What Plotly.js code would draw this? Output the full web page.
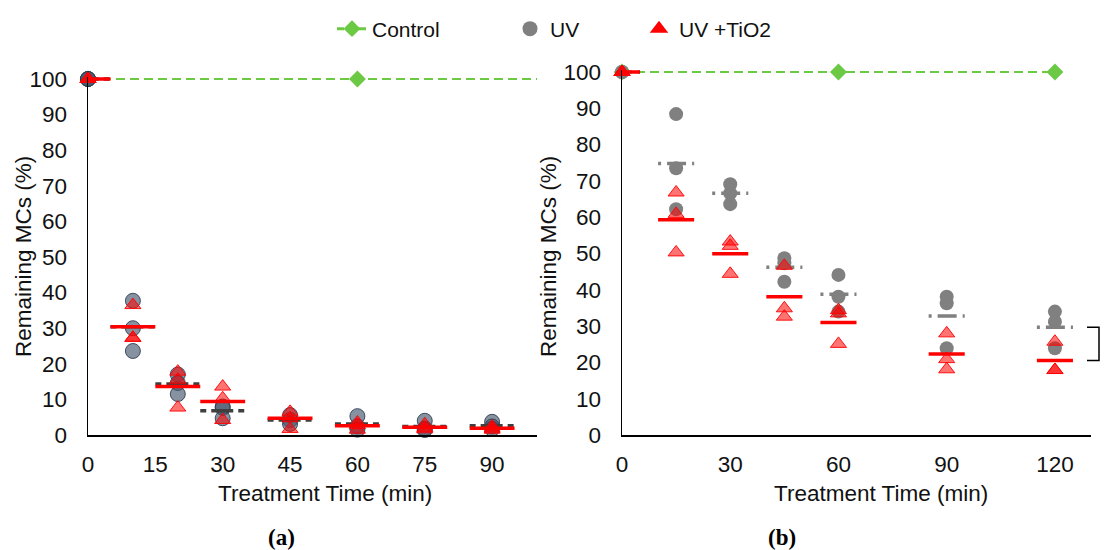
<!DOCTYPE html>
<html>
<head>
<meta charset="utf-8">
<script src="https://cdn.plot.ly/plotly-3.0.1.min.js"></script>
<style>html,body{margin:0;padding:0;background:#fff;}#chart{width:1108px;height:550px;}</style>
</head>
<body>
<div id="chart"></div>
<script>
// ---------- Data ----------
// Panel (a)
var timesA = [0, 10, 20, 30, 45, 60, 75, 90];
var uvA = [[100,100,100],[37.7,30.0,23.6],[17.0,14.6,11.5],[8.0,7.6,4.7],[5.6,4.2,3.1],[5.3,2.4,1.5],[4.0,1.8,1.4],[3.7,2.4,1.7]];
var tio2A = [[100,100,100],[36.5,27.3,27.3],[17.8,15.5,7.7],[13.6,10.3,4.2],[6.5,4.7,1.7],[3.5,2.8,1.5],[3.0,2.0,1.6],[2.4,1.8,1.5]];
var uvMeanA = [100, 30.4, 14.3, 6.8, 4.2, 3.1, 2.4, 2.6];
var tio2MeanA = [100, 30.4, 13.6, 9.4, 4.7, 2.6, 2.2, 1.9];
// Panel (b)
var timesB = [0, 15, 30, 45, 60, 90, 120];
var uvB = [[100,100,100],[88.4,73.5,62.2],[69.1,66.6,63.6],[48.7,47.3,42.2],[44.1,38.1,34.0],[38.1,36.3,23.9],[34.0,31.2,23.9]];
var tio2B = [[100,100,100],[66.8,60.9,50.3],[53.3,52.1,44.4],[46.6,34.9,32.6],[34.4,33.5,25.1],[28.0,20.9,18.1],[25.7,17.9,17.9]];
var uvMeanB = [100, 74.8, 66.6, 46.2, 38.8, 32.8, 29.7];
var tio2MeanB = [100, 59.3, 49.9, 38.1, 31.0, 22.3, 20.5];
// Control
var controlTimes = [0, 60, 120];
var controlValues = [100, 100, 100];
// Labels
var seriesNames = ['Control', 'UV', 'UV +TiO2'];
var xTitle = 'Treatment Time (min)';
var yTitle = 'Remaining MCs (%)';
var panelLabels = ['(a)', '(b)'];
var ticksA = [0, 15, 30, 45, 60, 75, 90];
var ticksB = [0, 30, 60, 90, 120];

// ---------- Helpers ----------
function flatten(times, reps) {
  var x = [], y = [];
  times.forEach(function (t, i) { reps[i].forEach(function (v) { x.push(t); y.push(v); }); });
  return {x: x, y: y};
}
var HALF = 5; // half-length of mean bars in minutes
function meanBars(times, means) {
  var x = [], y = [];
  times.forEach(function (t, i) { x.push(t - HALF, t + HALF, null); y.push(means[i], means[i], null); });
  return {x: x, y: y};
}

var FONT = 'Liberation Sans, Arial, Helvetica, sans-serif';
var GREEN = '#6cc944';
var AXFS = 22.5;

var traces = [];
function panel(xa, ya, times, uv, tio2, uvMean, tio2Mean, style) {
  traces.push({x: controlTimes, y: controlValues, xaxis: xa, yaxis: ya, mode: 'lines+markers', showlegend: false,
    line: {color: GREEN, width: 2, dash: '9px,5px'}, marker: {symbol: 'diamond', size: 13, color: GREEN}, cliponaxis: false});
  var u = flatten(times, uv);
  traces.push({x: u.x, y: u.y, xaxis: xa, yaxis: ya, mode: 'markers', showlegend: false, cliponaxis: false,
    marker: style.uvMarker});
  var um = meanBars(times, uvMean);
  traces.push({x: um.x, y: um.y, xaxis: xa, yaxis: ya, mode: 'lines', showlegend: false,
    line: {color: style.uvMeanColor, width: 3.5, dash: style.uvDash}});
  var r = flatten(times, tio2);
  traces.push({x: r.x, y: r.y, xaxis: xa, yaxis: ya, mode: 'markers', showlegend: false, cliponaxis: false,
    marker: style.tio2Marker});
  var rm = meanBars(times, tio2Mean);
  traces.push({x: rm.x, y: rm.y, xaxis: xa, yaxis: ya, mode: 'lines', showlegend: false,
    line: {color: '#ff0000', width: 3.5}});
}

panel('x', 'y', timesA, uvA, tio2A, uvMeanA, tio2MeanA, {
  uvMarker: {symbol: 'circle', size: 15, color: 'rgba(70,88,110,0.65)', line: {color: 'rgba(40,55,75,0.85)', width: 1}},
  uvMeanColor: '#3f3f3f', uvDash: '6px,5px,22px,5px,6px',
  tio2Marker: {symbol: 'triangle-up', size: 14, color: 'rgba(255,0,0,0.55)', line: {color: 'rgba(255,0,0,0.9)', width: 1}}
});
panel('x2', 'y2', timesB, uvB, tio2B, uvMeanB, tio2MeanB, {
  uvMarker: {symbol: 'circle', size: 14, color: '#808080'},
  uvMeanColor: '#808080', uvDash: '3px,6px,19px,6px,3px',
  tio2Marker: {symbol: 'triangle-up', size: 14, color: 'rgba(255,0,0,0.55)', line: {color: 'rgba(255,0,0,0.9)', width: 1}}
});

// Legend-only entries
traces.push({x: [null], y: [null], mode: 'lines+markers', name: seriesNames[0], legend: 'legend',
  line: {color: GREEN, width: 3, dash: '7px,4px'}, marker: {symbol: 'diamond', size: 13, color: GREEN}});
traces.push({x: [null], y: [null], mode: 'markers', name: seriesNames[1], legend: 'legend2',
  marker: {symbol: 'circle', size: 15, color: '#808080'}});
traces.push({x: [null], y: [null], mode: 'markers', name: seriesNames[2], legend: 'legend3',
  marker: {symbol: 'triangle-up', size: 17, color: '#ff0000'}});

// y range slightly above 100 so the control line at 100 is not clipped; domain keeps 100 at the same pixel
var YMAX = 100.6;
function yAxis(bottomPx, topPx, anchor) {
  var per = (bottomPx - topPx) / 100;
  var topExt = topPx - (YMAX - 100) * per;
  return {domain: [(550 - bottomPx) / 550, (550 - topExt) / 550], anchor: anchor, range: [0, YMAX],
    tickvals: [0,10,20,30,40,50,60,70,80,90,100], showline: true, linecolor: '#000', linewidth: 1.5,
    showgrid: false, zeroline: false, ticks: '', ticklabelstandoff: 15, fixedrange: true,
    tickfont: {family: FONT, size: AXFS, color: '#111'}};
}
function xAxis(dom, anchor, range, tv) {
  return {domain: dom, anchor: anchor, range: range, tickvals: tv, showline: true, linecolor: '#000', linewidth: 1.5,
    showgrid: false, zeroline: false, ticks: '', ticklabelstandoff: 8, fixedrange: true,
    tickfont: {family: FONT, size: AXFS, color: '#111'}};
}

var legFont = {family: FONT, size: 21, color: '#111'};
function leg(x) {
  return {x: x, y: (550 - 29) / 550, xanchor: 'left', yanchor: 'middle', orientation: 'h', font: legFont,
    bgcolor: 'rgba(0,0,0,0)', borderwidth: 0, itemwidth: 30};
}

function ann(text, xpx, ypx, extra) {
  var a = {text: text, xref: 'paper', yref: 'paper', x: xpx / 1108, y: (550 - ypx) / 550, showarrow: false,
    xanchor: 'center', yanchor: 'middle', font: {family: FONT, size: AXFS, color: '#111'}};
  for (var k in extra) a[k] = extra[k];
  return a;
}

var layout = {
  width: 1108, height: 550,
  margin: {l: 0, r: 0, t: 0, b: 0},
  paper_bgcolor: '#fff', plot_bgcolor: '#fff',
  xaxis: xAxis([88 / 1108, 537 / 1108], 'y', [0, 100], ticksA),
  yaxis: yAxis(435, 79, 'x'),
  xaxis2: xAxis([622 / 1108, 1091 / 1108], 'y2', [0, 130], ticksB),
  yaxis2: yAxis(435, 72, 'x2'),
  legend: leg(332 / 1108),
  legend2: leg(510 / 1108),
  legend3: leg(639 / 1108),
  shapes: [{
    type: 'path', xref: 'paper', yref: 'y2', layer: 'above',
    path: 'M ' + (1087 / 1108) + ',' + uvMeanB[6] + ' L ' + (1099 / 1108) + ',' + uvMeanB[6] +
          ' L ' + (1099 / 1108) + ',' + tio2MeanB[6] + ' L ' + (1087 / 1108) + ',' + tio2MeanB[6],
    line: {color: '#000', width: 1.5}
  }],
  annotations: [
    ann(xTitle, 325, 493),
    ann(xTitle, 881, 493),
    ann(yTitle, 23, 257, {textangle: -90}),
    ann(yTitle, 548, 257, {textangle: -90}),
    ann('<b>' + panelLabels[0] + '</b>', 281, 537, {font: {family: 'Liberation Serif, DejaVu Serif, serif', size: 23, color: '#000'}}),
    ann('<b>' + panelLabels[1] + '</b>', 782, 537, {font: {family: 'Liberation Serif, DejaVu Serif, serif', size: 23, color: '#000'}})
  ]
};

Plotly.newPlot('chart', traces, layout, {displayModeBar: false, staticPlot: true});
</script>
</body>
</html>
